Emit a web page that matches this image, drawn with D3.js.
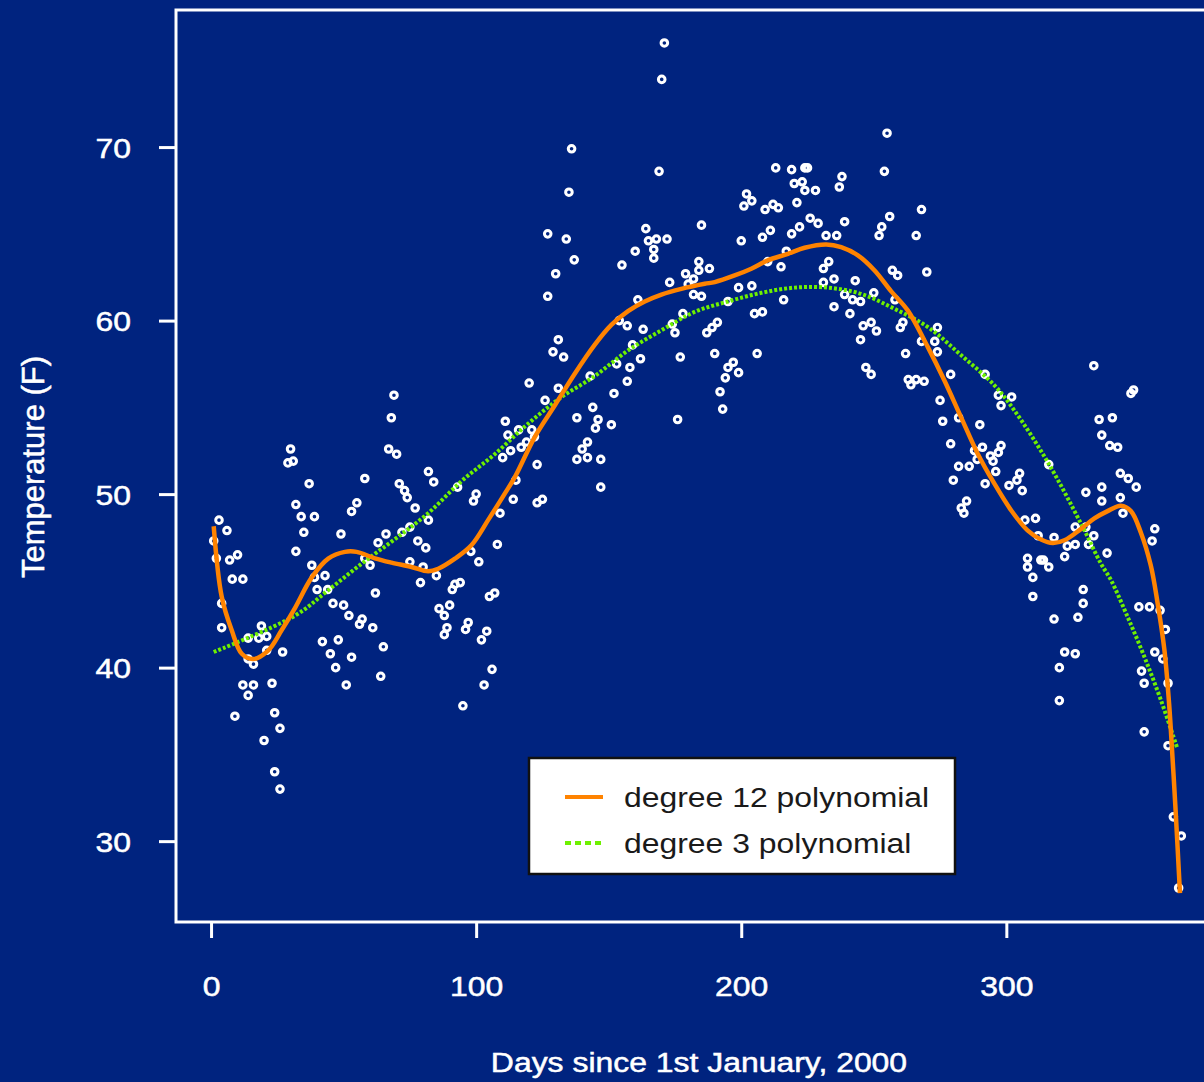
<!DOCTYPE html>
<html><head><meta charset="utf-8">
<script src="https://cdn.jsdelivr.net/npm/d3@7/dist/d3.min.js"></script>
<style>
html,body{margin:0;padding:0;background:#00237f;}
svg{display:block;}
text{font-family:"Liberation Sans",Arial,Helvetica,sans-serif;}
</style></head>
<body>
<svg id="chart" width="1204" height="1082"></svg>
<script>
// ---- data ----
const observations = [
[1,47.3],[2,46.3],[3,48.5],[6,47.9],[7,46.2],[10,46.5],[8,45.1],[12,45.1],[4,43.7],[4,42.3],[19,42.4],[14,41.7],[18,41.7],[21,41.8],[21,41.0],[27,40.9],[14,40.5],[16,40.2],[12,39.0],[16,39.0],[14,38.4],[23,39.1],[9,37.2],[24,37.4],[26,36.5],[20,35.8],[24,34.0],[26,33.0],[30,52.6],[29,51.8],[31,51.9],[32,49.4],[34,48.7],[35,47.8],[32,46.7],
[69,55.7],[68,54.4],[67,52.6],[70,52.3],[58,50.9],[37,50.6],[71,50.6],[73,50.2],[39,48.7],[55,49.5],[53,49.0],[49,47.7],[66,47.7],[63,47.2],[72,47.8],[58,46.3],[60,45.9],[38,45.9],[39,45.2],[43,45.3],[40,44.5],[44,44.5],[62,44.3],[46,43.7],[50,43.6],[52,43.0],[57,42.8],[56,42.5],[61,42.3],[42,41.5],[48,41.6],[65,41.2],[45,40.8],[53,40.6],[47,40.0],[64,39.5],[51,39.0],
[82,51.3],[84,50.7],[74,49.8],[93,50.4],[110,52.1],[100,50.0],[99,49.6],[77,49.2],[82,48.5],[75,48.1],[109,48.9],[78,47.3],[81,46.9],[108,47.1],[98,46.7],[101,46.1],[75,46.1],[80,45.8],[85,45.3],[79,44.9],[94,44.9],[92,44.8],[91,44.5],[107,44.3],[105,44.1],[86,43.4],[90,43.6],[88,43.0],[97,42.6],[96,42.2],[89,42.3],[88,41.9],[104,42.1],[102,41.6],[106,39.9],[103,39.0],[95,37.8],
[136,69.9],[135,67.4],[127,65.0],[134,64.7],[137,63.5],[130,62.7],[127,61.4],[131,58.9],[129,58.2],[133,57.9],[120,56.4],[131,56.1],[143,56.8],[126,55.4],[144,55.0],[138,54.4],[146,54.3],[145,53.8],[111,54.2],[112,53.4],[116,53.7],[121,53.7],[122,53.3],[119,53.0],[117,52.7],[113,52.5],[142,53.0],[140,52.6],[138,52.0],[142,52.1],[147,52.0],[123,51.7],[147,50.4],[115,50.8],[114,49.7],[123,49.5],[125,49.7],
[171,76.0],[170,73.9],[169,68.6],[164,65.3],[185,65.5],[165,64.6],[168,64.7],[172,64.7],[167,64.1],[167,63.6],[160,64.0],[155,63.2],[184,63.4],[184,62.9],[179,62.7],[182,62.4],[180,62.1],[173,62.2],[185,61.4],[161,61.2],[182,61.5],[178,60.4],[154,60.0],[157,59.7],[174,59.8],[175,59.3],[163,59.5],[159,58.6],[162,57.8],[153,57.5],[158,57.3],[177,57.9],[157,56.5],[152,55.8],[176,54.3],[151,54.0],
[213,68.8],[219,68.7],[224,68.8],[220,67.9],[223,68.0],[224,67.5],[202,67.3],[204,66.9],[201,66.6],[212,66.7],[214,66.5],[209,66.4],[221,66.8],[222,65.4],[211,65.2],[208,64.8],[219,65.0],[200,64.6],[217,64.0],[188,63.0],[210,63.4],[215,63.1],[199,61.9],[204,62.0],[195,61.1],[216,61.2],[205,60.4],[208,60.5],[191,59.9],[189,59.6],[187,59.3],[190,58.1],[206,58.1],[197,57.6],[195,57.3],[199,57.0],[194,56.7],[192,55.9],[193,54.9],
[255,70.8],[225,68.8],[238,68.3],[237,67.7],[254,68.6],[228,67.5],[226,65.9],[229,65.6],[239,65.7],[256,66.0],[253,65.4],[252,64.9],[232,64.9],[236,64.9],[233,63.4],[231,63.0],[235,62.4],[231,62.2],[243,62.3],[257,62.9],[259,62.6],[239,61.5],[242,61.2],[245,61.1],[250,61.6],[258,61.2],[235,60.8],[241,60.4],[261,59.9],[260,59.6],[246,59.7],[249,59.9],[251,59.4],[245,58.9],[247,57.3],[249,56.9],[262,58.1],
[268,66.4],[266,64.9],[270,62.8],[274,59.6],[268,58.8],[273,58.8],[274,58.2],[263,56.6],[266,56.6],[264,56.3],[269,56.5],[279,56.9],[292,56.9],[297,55.7],[298,55.1],[275,55.4],[276,54.2],[282,54.4],[290,54.0],[279,52.9],[291,52.7],[288,52.5],[298,52.8],[294,52.2],[297,52.4],[289,52.0],[286,51.6],[295,51.9],[296,51.3],[282,51.6],[280,50.8],[292,50.6],[285,49.6],[283,49.2],[284,48.9],
[333,57.4],[302,55.6],[335,54.3],[336,53.4],[316,51.7],[305,51.2],[304,50.8],[301,50.5],[306,50.2],[330,50.1],[336,50.4],[336,49.6],[307,48.5],[311,48.6],[326,48.1],[330,48.1],[312,47.6],[318,47.5],[323,47.0],[326,47.1],[322,46.4],[333,47.6],[331,47.1],[308,46.3],[308,45.8],[313,46.2],[314,46.2],[316,45.8],[310,45.2],[310,44.1],[329,44.5],[329,43.7],[318,42.8],[327,42.9],[322,40.9],[326,40.8],[320,40.0],[320,38.1],
[347,55.8],[348,56.0],[340,54.4],[339,52.8],[342,52.7],[343,51.2],[346,50.9],[349,50.4],[343,49.8],[344,48.9],[356,48.0],[355,47.3],[338,46.6],[350,43.5],[354,43.5],[358,43.3],[360,42.2],[356,40.9],[359,40.5],[351,39.8],[352,39.1],[361,39.1],[352,36.3],[361,35.5],[363,31.4],[366,30.3],[365,27.3]
];

const fit12 = [
[1,48.15],[4,44.1],[7.8,42.15],[11.6,40.8],[16,40.5],[21.6,41.0],[26.6,42.15],[31.7,43.45],[38,45.2],[44.2,46.28],[50.5,46.67],[54.9,46.67],[61.8,46.3],[68.1,46.05],[75.6,45.8],[81.9,45.55],[85.7,45.7],[92,46.28],[98.2,47.05],[104.5,48.5],[110.8,50.03],[114.6,50.98],[122.1,53.29],[129.7,55.12],[137.2,56.94],[144.7,58.6],[151,59.75],[157.3,60.55],[163.6,61.1],[169.9,61.5],[177.4,61.83],[186.2,62.12],[190,62.22],[197.5,62.6],[203.8,62.99],[210,63.47],[217.6,63.85],[223.9,64.2],[232.1,64.39],[237.7,64.23],[244,63.76],[250.3,62.89],[256.5,61.7],[262.8,60.59],[270.4,58.47],[276.6,56.56],[282.9,54.44],[289.2,52.33],[295.5,50.6],[301.8,49.07],[308,47.91],[313.1,47.38],[317.5,47.18],[321.9,47.34],[328.2,48.0],[333.2,48.6],[338.2,49.02],[343.2,49.33],[347,49.02],[350.8,47.76],[354.5,45.88],[357,43.78],[359.6,41.06],[361.4,37.92],[362.7,34.78],[363.9,31.64],[365.5,27.0]
];

const fit3 = [
[1,40.9],[31.7,43.0],[44.2,44.46],[56.8,45.99],[69.3,47.4],[81.9,48.9],[94.5,50.75],[107,52.3],[119.6,54.06],[132.2,55.59],[144.7,56.8],[157.3,58.28],[169.9,59.44],[182.4,60.5],[195,61.1],[207.6,61.6],[220.1,61.9],[232.7,61.9],[245.2,61.54],[257.8,60.68],[270.4,59.63],[283,58.0],[295.5,56.27],[303,54.83],[315.6,51.85],[328.2,48.29],[335.7,45.99],[339.5,45.04],[345.7,42.94],[352,40.65],[358.3,38.13],[364.6,35.3]
];

const xTicks = [0,100,200,300];
const yTicks = [30,40,50,60,70];
const xTitle = "Days since 1st January, 2000";
const yTitle = "Temperature (F)";
const legendLabels = ["degree 12 polynomial","degree 3 polynomial"];

// ---- drawing ----
const BG = "#00237f", ORANGE = "#ff8300", GREEN = "#6ef000";
const svg = d3.select("#chart");
svg.append("rect").attr("width",1204).attr("height",1082).attr("fill",BG);

const x = d3.scaleLinear().domain([-13.6,380.6]).range([175,1220]);
const y = d3.scaleLinear().domain([25.34,77.9]).range([922,10]);

// points
svg.append("g").selectAll("circle").data(observations).join("circle")
  .attr("cx",d=>x(d[0])).attr("cy",d=>y(d[1])).attr("r",3.3)
  .attr("fill","none").attr("stroke","#ffffff").attr("stroke-width",3);

// fitted curves
const line = d3.line().x(d=>x(d[0])).y(d=>y(d[1])).curve(d3.curveCatmullRom.alpha(0.5));
svg.append("path").datum(fit3).attr("d",line).attr("fill","none")
  .attr("stroke",GREEN).attr("stroke-width",4).attr("stroke-dasharray","3,2");
svg.append("path").datum(fit12).attr("d",line).attr("fill","none")
  .attr("stroke",ORANGE).attr("stroke-width",4.5).attr("stroke-linejoin","round");

// frame
svg.append("rect").attr("x",x(-13.6)+1).attr("y",y(77.9)).attr("width",x(380.6)-x(-13.6))
  .attr("height",y(25.34)-y(77.9)).attr("fill","none").attr("stroke","#fff").attr("stroke-width",3);

const SX = 1.14;
function stretch(sel){
  sel.each(function(){
    const t = d3.select(this);
    const tx = +t.attr("x")||0, ty = +t.attr("y")||0;
    t.attr("x",0).attr("y",0).attr("transform",`translate(${tx},${ty}) scale(${SX},1)`);
  });
}

// y axis
const gy = svg.append("g").attr("transform",`translate(${x(-13.6)+1},0)`)
  .call(d3.axisLeft(y).tickValues(yTicks).tickSize(17).tickPadding(28).tickSizeOuter(0).tickFormat(d3.format("d")));
gy.select(".domain").remove();
gy.selectAll("line").attr("stroke","#fff").attr("stroke-width",3);
gy.selectAll("text").attr("fill","#fff").attr("stroke","#fff").attr("stroke-width",0.5)
  .attr("font-size",28).attr("dy",null).attr("y",10).call(stretch);

// x axis
const gx = svg.append("g").attr("transform",`translate(0,${y(25.34)})`)
  .call(d3.axisBottom(x).tickValues(xTicks).tickSize(16).tickPadding(20).tickSizeOuter(0).tickFormat(d3.format("d")));
gx.select(".domain").remove();
gx.selectAll("line").attr("stroke","#fff").attr("stroke-width",3);
gx.selectAll("text").attr("fill","#fff").attr("stroke","#fff").attr("stroke-width",0.5)
  .attr("font-size",28).attr("dy",null).attr("y",74).call(stretch);

// titles
svg.append("text").attr("fill","#fff").attr("stroke","#fff").attr("stroke-width",0.5)
  .attr("font-size",28).attr("text-anchor","middle")
  .attr("x",699).attr("y",1072).text(xTitle).call(stretch);
svg.append("text").attr("fill","#fff").attr("stroke","#fff").attr("stroke-width",0.5)
  .attr("font-size",31).attr("text-anchor","middle")
  .attr("transform","translate(44,467) rotate(-90)").text(yTitle);

// legend
const lg = svg.append("g");
lg.append("rect").attr("x",529).attr("y",758).attr("width",426).attr("height",116)
  .attr("fill","#fff").attr("stroke","#111").attr("stroke-width",2.5);
lg.append("line").attr("x1",565).attr("x2",603).attr("y1",797).attr("y2",797)
  .attr("stroke",ORANGE).attr("stroke-width",4);
lg.append("line").attr("x1",565).attr("x2",603).attr("y1",843).attr("y2",843)
  .attr("stroke",GREEN).attr("stroke-width",4).attr("stroke-dasharray","6,4");
lg.selectAll("text.lab").data(legendLabels).join("text").attr("class","lab")
  .attr("x",624).attr("y",(d,i)=>807+i*46).attr("fill","#1a1a1a").attr("font-size",28).text(d=>d).call(stretch);
</script>
</body></html>
